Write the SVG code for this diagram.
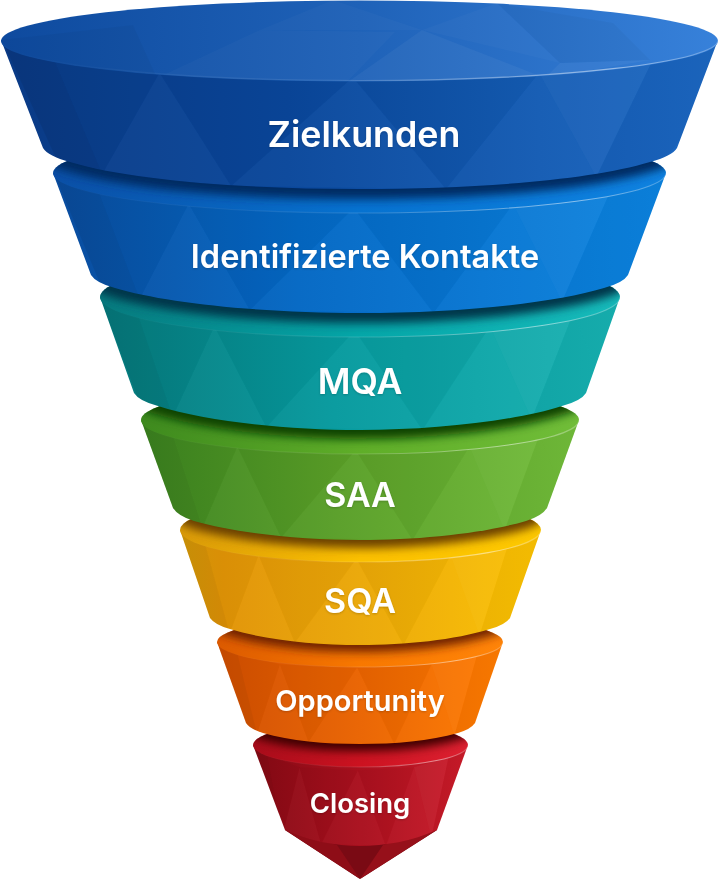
<svg xmlns="http://www.w3.org/2000/svg" width="720" height="880" viewBox="0 0 720 880">
<style>
.lbl{font-family:Inter,"Noto Sans","Liberation Sans",sans-serif;font-weight:600;fill:#fff;text-anchor:middle;filter:url(#ts)}
.l1{fill:#fff;fill-opacity:.022}.l2{fill:#fff;fill-opacity:.045}.d1{fill:#000;fill-opacity:.03}.d2{fill:#000;fill-opacity:.07}
.edge{fill:none;stroke:url(#hl);stroke-width:1.1}
</style>
<defs>
<filter id="ts" x="-10%" y="-20%" width="120%" height="150%"><feDropShadow dx="0" dy="1" stdDeviation="1.2" flood-color="#000" flood-opacity=".2"/></filter>
<filter id="sb" x="-10%" y="-20%" width="120%" height="140%"><feGaussianBlur stdDeviation="5"/></filter>
<linearGradient id="hl"><stop offset="0" stop-color="#fff" stop-opacity="0"/><stop offset=".45" stop-color="#fff" stop-opacity=".1"/><stop offset=".85" stop-color="#fff" stop-opacity=".5"/><stop offset="1" stop-color="#fff" stop-opacity=".25"/></linearGradient>
<linearGradient id="h1"><stop offset="0" stop-color="#0a3a85"/><stop offset=".4" stop-color="#0a479b"/><stop offset=".75" stop-color="#145cb4"/><stop offset="1" stop-color="#1c68c2"/></linearGradient>
<linearGradient id="t1"><stop offset="0" stop-color="#0e4a9e"/><stop offset=".5" stop-color="#1f62b8"/><stop offset="1" stop-color="#3781da"/></linearGradient>
<linearGradient id="h2"><stop offset="0" stop-color="#0a4c9e"/><stop offset=".4" stop-color="#0468c4"/><stop offset="1" stop-color="#0c84e0"/></linearGradient>
<linearGradient id="t2"><stop offset="0" stop-color="#0a4fa6"/><stop offset=".5" stop-color="#0672d0"/><stop offset="1" stop-color="#0e82e0"/></linearGradient>
<linearGradient id="h3"><stop offset="0" stop-color="#06797c"/><stop offset=".45" stop-color="#079a9e"/><stop offset="1" stop-color="#17b2b2"/></linearGradient>
<linearGradient id="t3"><stop offset="0" stop-color="#067a7e"/><stop offset=".5" stop-color="#04a6a8"/><stop offset="1" stop-color="#16baba"/></linearGradient>
<linearGradient id="h4"><stop offset="0" stop-color="#3c8420"/><stop offset=".45" stop-color="#5a9f28"/><stop offset="1" stop-color="#72bd3a"/></linearGradient>
<linearGradient id="t4"><stop offset="0" stop-color="#3e8a1e"/><stop offset=".5" stop-color="#5fae28"/><stop offset="1" stop-color="#70bd38"/></linearGradient>
<linearGradient id="h5"><stop offset="0" stop-color="#d69a08"/><stop offset=".12" stop-color="#e29407"/><stop offset=".5" stop-color="#eba808"/><stop offset="1" stop-color="#fbc202"/></linearGradient>
<linearGradient id="t5"><stop offset="0" stop-color="#d99a08"/><stop offset=".5" stop-color="#fbc000"/><stop offset="1" stop-color="#fdc800"/></linearGradient>
<linearGradient id="h6"><stop offset="0" stop-color="#d24f00"/><stop offset=".5" stop-color="#ea6400"/><stop offset="1" stop-color="#ff7c00"/></linearGradient>
<linearGradient id="t6"><stop offset="0" stop-color="#dc5a00"/><stop offset=".5" stop-color="#f87800"/><stop offset="1" stop-color="#ff8408"/></linearGradient>
<linearGradient id="h7"><stop offset="0" stop-color="#860a14"/><stop offset=".5" stop-color="#aa101e"/><stop offset="1" stop-color="#cc1b2a"/></linearGradient>
<linearGradient id="t7"><stop offset="0" stop-color="#a80c1a"/><stop offset=".5" stop-color="#cc1220"/><stop offset="1" stop-color="#dc2030"/></linearGradient>
<path id="b1" d="M1,40 L43,148 Q48,156 70,162 C130,180 240,189 360,189 C480,189 590,180 650,162 Q672,156 677,148 L718,40 Z"/>
<path id="b2" d="M53,173 L91,275 Q96,283 115,288 C165,303 260,313 360,313 C460,313 555,303 604,288 Q623,283 628,275 L666,173 Z"/>
<path id="b3" d="M100,297 L134,393 Q139,401 158,406 C205,421 285,430 360,430 C435,430 515,421 562,406 Q581,401 586,393 L620,297 Z"/>
<path id="b4" d="M141,420 L173,508 Q178,516 194,521 C235,533 300,540 360,540 C420,540 485,533 526,521 Q542,516 547,508 L579,420 Z"/>
<path id="b5" d="M180,530 L210,618 Q215,625 230,629 C265,640 315,645 360,645 C405,645 455,640 490,629 Q505,625 510,618 L541,530 Z"/>
<path id="b6" d="M217,642 L246,723 Q250,729 263,733 C290,741 325,744 360,744 C395,744 430,741 458,733 Q471,729 475,723 L503,642 Z"/>
<path id="b7" d="M253,745 L285,830 C310,841 335,846 360,846 C385,846 412,841 437,830 L468,745 Z"/>
<clipPath id="c1"><use href="#b1"/></clipPath><clipPath id="c2"><use href="#b2"/></clipPath><clipPath id="c3"><use href="#b3"/></clipPath><clipPath id="c4"><use href="#b4"/></clipPath><clipPath id="c5"><use href="#b5"/></clipPath><clipPath id="c6"><use href="#b6"/></clipPath><clipPath id="c7"><use href="#b7"/></clipPath>
<clipPath id="e1"><ellipse cx="359.5" cy="41" rx="358.5" ry="40.5"/></clipPath>
<clipPath id="e2"><ellipse cx="359.5" cy="173" rx="306.5" ry="40"/></clipPath>
<clipPath id="e3"><ellipse cx="360" cy="297" rx="260" ry="40"/></clipPath>
<clipPath id="e4"><ellipse cx="360" cy="420" rx="219" ry="34"/></clipPath>
<clipPath id="e5"><ellipse cx="360.5" cy="530" rx="180.5" ry="32"/></clipPath>
<clipPath id="e6"><ellipse cx="360" cy="642" rx="143" ry="25"/></clipPath>
<clipPath id="e7"><ellipse cx="360.5" cy="745" rx="107.5" ry="22"/></clipPath>
<g id="facets">
<polygon class="d2" points="-1,0 -.86,.1 -.72,.9 -.8,1.05"/>
<polygon class="d1" points="-.86,.1 -.72,.9 -.56,.22"/>
<polygon class="l1" points="-.72,.9 -.56,.22 -.36,.98"/>
<polygon class="d1" points="-.56,.22 -.36,.98 -.02,.25"/>
<polygon class="l1" points="-.36,.98 -.02,.25 .24,1"/>
<polygon class="d1" points="-.02,.25 .24,1 .5,.22"/>
<polygon class="l1" points=".24,1 .5,.22 .66,.92"/>
<polygon class="l2" points=".5,.22 .66,.92 .82,.12"/>
<polygon class="d1" points=".66,.92 .82,.12 .92,.6 .78,1"/>
<polygon class="d1" points=".82,.12 1,0 .92,.6"/>
</g>
</defs>

<g id="seg-closing">
<polygon points="285,830 360,879 437,830" fill="#7a0a14"/>
<polygon points="285,830 337,845 360,879" fill="#8e0d17"/>
<polygon points="437,830 383,845 360,879" fill="#96101a"/>
<use href="#b7" fill="url(#h7)"/>
<g clip-path="url(#c7)"><use href="#facets" transform="translate(360,745) scale(108,101)"/></g>
<ellipse cx="360.5" cy="745" rx="107.5" ry="22" fill="url(#t7)"/>
<g clip-path="url(#e7)"><use href="#b6" transform="translate(0,7)" fill="#3c0004" filter="url(#sb)"/></g>
<path class="edge" d="M253,745 A107.5,22 0 0 0 468,745"/>
<text class="lbl" x="360" y="813" font-size="27.5">Closing</text>
</g>

<g id="seg-opportunity">
<use href="#b6" fill="url(#h6)"/>
<g clip-path="url(#c6)"><use href="#facets" transform="translate(360,642) scale(143,102)"/></g>
<ellipse cx="360" cy="642" rx="143" ry="25" fill="url(#t6)"/>
<g clip-path="url(#e6)"><use href="#b5" transform="translate(0,7)" fill="#6e2000" filter="url(#sb)"/></g>
<path class="edge" d="M217,642 A143,25 0 0 0 503,642"/>
<text class="lbl" x="360" y="711" font-size="29">Opportunity</text>
</g>

<g id="seg-sqa">
<use href="#b5" fill="url(#h5)"/>
<g clip-path="url(#c5)"><use href="#facets" transform="translate(360,530) scale(181,115)"/></g>
<ellipse cx="360.5" cy="530" rx="180.5" ry="32" fill="url(#t5)"/>
<g clip-path="url(#e5)"><use href="#b4" transform="translate(0,8)" fill="#6a4000" filter="url(#sb)"/></g>
<path class="edge" d="M180,530 A180.5,32 0 0 0 541,530"/>
<text class="lbl" x="360" y="613" font-size="34">SQA</text>
</g>

<g id="seg-saa">
<use href="#b4" fill="url(#h4)"/>
<g clip-path="url(#c4)"><use href="#facets" transform="translate(360,420) scale(219,120)"/></g>
<ellipse cx="360" cy="420" rx="219" ry="34" fill="url(#t4)"/>
<g clip-path="url(#e4)"><use href="#b3" transform="translate(0,9)" fill="#084204" filter="url(#sb)"/></g>
<path class="edge" d="M141,420 A219,34 0 0 0 579,420"/>
<text class="lbl" x="360" y="507" font-size="34">SAA</text>
</g>

<g id="seg-mqa">
<use href="#b3" fill="url(#h3)"/>
<g clip-path="url(#c3)"><use href="#facets" transform="translate(360,297) scale(260,133)"/></g>
<ellipse cx="360" cy="297" rx="260" ry="40" fill="url(#t3)"/>
<g clip-path="url(#e3)"><use href="#b2" transform="translate(0,10)" fill="#01344a" filter="url(#sb)"/></g>
<path class="edge" d="M100,297 A260,40 0 0 0 620,297"/>
<text class="lbl" x="360" y="394" font-size="35.5">MQA</text>
</g>

<g id="seg-kontakte">
<use href="#b2" fill="url(#h2)"/>
<g clip-path="url(#c2)"><use href="#facets" transform="translate(360,173) scale(306,140)"/></g>
<ellipse cx="359.5" cy="173" rx="306.5" ry="40" fill="url(#t2)"/>
<g clip-path="url(#e2)"><use href="#b1" transform="translate(0,10)" fill="#022a62" filter="url(#sb)"/></g>
<path class="edge" d="M53,173 A306.5,40 0 0 0 666,173"/>
<text class="lbl" x="365" y="268" font-size="32.5">Identifizierte Kontakte</text>
</g>

<g id="seg-zielkunden">
<use href="#b1" fill="url(#h1)"/>
<g clip-path="url(#c1)"><use href="#facets" transform="translate(360,40) scale(358,149)"/></g>
<ellipse cx="359.5" cy="41" rx="358.5" ry="40.5" fill="url(#t1)"/>
<g clip-path="url(#e1)">
<polygon class="d1" points="133,25 157,78 40,78 0,40"/>
<polygon class="l1" points="157,78 260,30 395,32 345,84"/>
<polygon class="l1" points="260,30 333,0 422,30"/>
<polygon class="l2" points="345,84 422,30 545,78"/>
<polygon class="l1" points="422,30 497,3 560,63"/>
<polygon class="l2" points="545,78 560,63 650,60"/>
<polygon class="d1" points="497,3 613,23 650,60 560,63"/>
</g>
<path class="edge" d="M1,40 A358.5,40.5 0 0 0 718,40"/>
<text class="lbl" x="364" y="147" font-size="35.8">Zielkunden</text>
</g>
</svg>
